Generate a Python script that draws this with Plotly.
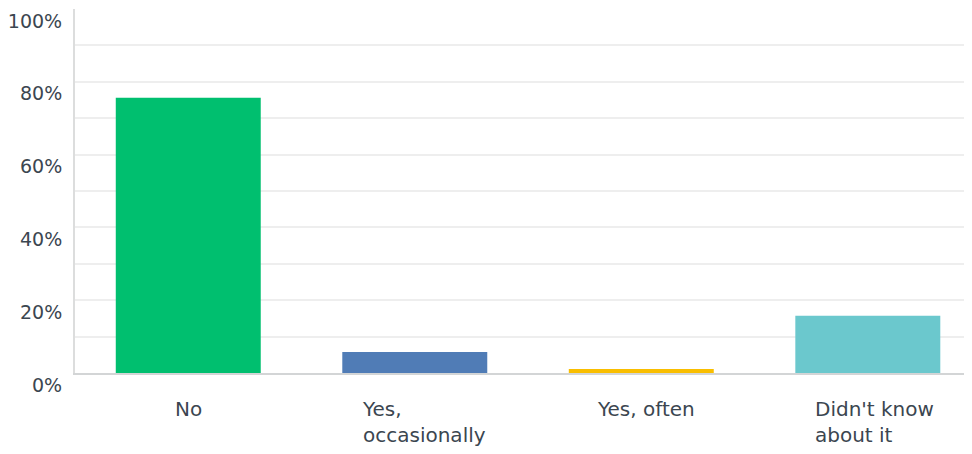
import plotly.graph_objects as go

categories = ["No", "Yes, occasionally", "Yes, often", "Didn't know about it"]
label_lines = ["No", "Yes,<br>occasionally", "Yes, often", "Didn't know<br>about it"]
values = [75.6, 5.8, 1.1, 15.7]
colors = ["#00BF6F", "#507CB6", "#F9BE00", "#6BC8CD"]
y_ticks = [0, 20, 40, 60, 80, 100]
y_ticktext = ["0%", "20%", "40%", "60%", "80%", "100%"]

# small horizontal nudges of the category labels (style only)
LABEL_XSHIFT = [0, 9, 5, 7]

TEXT = "#3b4650"
FONT = "DejaVu Sans"

fig = go.Figure(go.Bar(x=categories, y=values, marker_color=colors,
                       marker_line_width=0, width=0.64, hoverinfo="skip"))

for cat, lab, xs in zip(categories, label_lines, LABEL_XSHIFT):
    fig.add_annotation(x=cat, y=0, xref="x", yref="paper", yanchor="top",
                       xanchor="center", yshift=-22, xshift=xs, text=lab,
                       align="left", showarrow=False,
                       font=dict(family=FONT, size=20, color=TEXT))

fig.update_layout(
    width=964, height=446,
    margin=dict(l=67, r=0, t=1, b=81, autoexpand=False),
    plot_bgcolor="white", paper_bgcolor="white",
    showlegend=False,
    xaxis=dict(range=[-0.5, 3.46], showticklabels=False, showgrid=False,
               showline=True, linecolor="#d3d5d6", linewidth=2, zeroline=False,
               fixedrange=True, automargin=False),
    yaxis=dict(range=[0, 100], tickvals=y_ticks, ticktext=y_ticktext,
               showgrid=True, gridcolor="#eeeeee", gridwidth=2,
               minor=dict(dtick=10, showgrid=True, gridcolor="#eeeeee", gridwidth=2),
               showline=True, linecolor="#dcdddd", linewidth=2, zeroline=False,
               ticklabelshift=12, ticklabelstandoff=7, automargin=False,
               tickfont=dict(family=FONT, size=19, color=TEXT),
               fixedrange=True),
)

fig.write_html("out.html")
